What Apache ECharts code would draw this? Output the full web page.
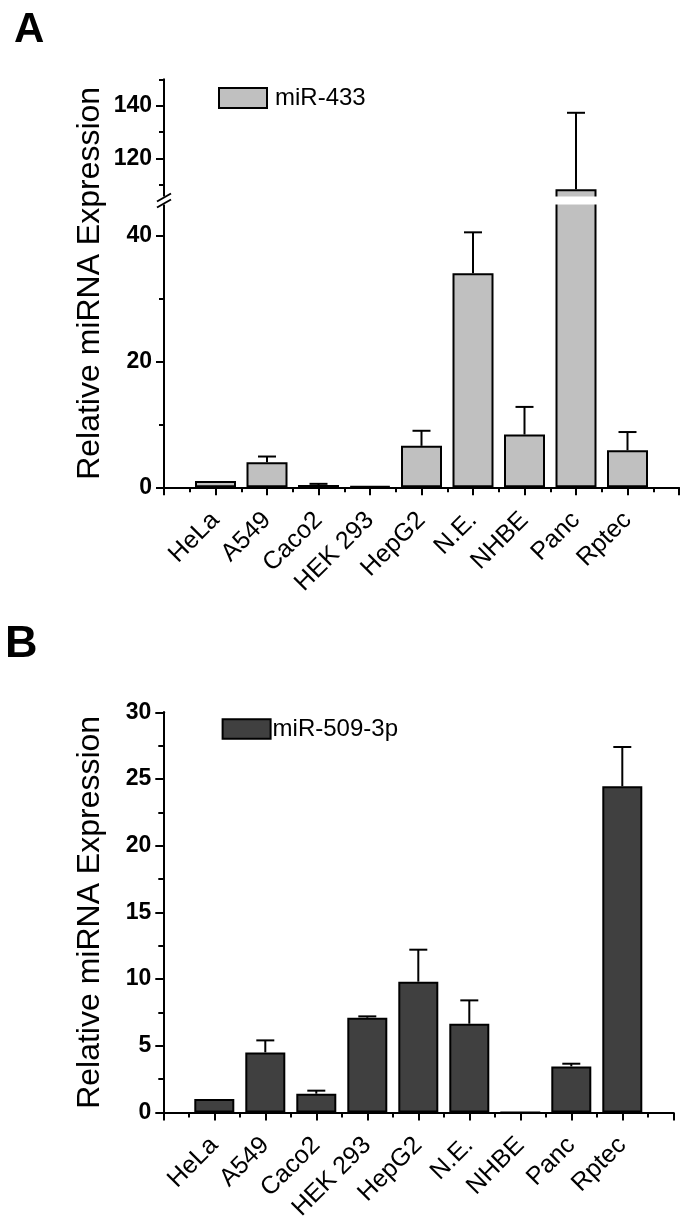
<!DOCTYPE html>
<html>
<head>
<meta charset="utf-8">
<script src="https://cdn.jsdelivr.net/npm/echarts@6.0.0/dist/echarts.min.js"></script>
<style>
  html, body { margin: 0; padding: 0; background: #fff; }
  #chart { width: 688px; height: 1222px; }
</style>
</head>
<body>
<div id="chart"></div>
<script>
// ---------------- data ----------------
const categories = ['HeLa', 'A549', 'Caco2', 'HEK 293', 'HepG2', 'N.E.', 'NHBE', 'Panc', 'Rptec'];

// Panel A : miR-433
const mir433Values = [1.0, 4.0, 0.35, 0.2, 6.6, 34.1, 8.4, 108.2, 5.9];
const mir433Errors = [0, 0.9, 0.2, 0, 2.4, 6.5, 4.4, 29.1, 2.9];

// Panel B : miR-509-3p
const mir509Values = [1.0, 4.5, 1.4, 7.1, 9.8, 6.65, 0, 3.45, 24.45];
const mir509Errors = [0, 0.9, 0.23, 0.1, 2.4, 1.75, 0, 0.2, 2.95];

// tick labels
const aUpperTicks = [120, 140];
const aUpperMinorTicks = [110, 130, 150];
const aLowerTicks = [0, 20, 40];
const aLowerMinorTicks = [10, 30];
const bTicks = [0, 5, 10, 15, 20, 25, 30];
const bMinorTicks = [2.5, 7.5, 12.5, 17.5, 22.5, 27.5];

// broken axis extents (panel A)
const aUpperMin = 104.7, aUpperMax = 150;
const aLowerMin = 0, aLowerMax = 45.35;
const bMin = 0, bMax = 30;

// ---------------- styles / layout ----------------
const FONT = 'Liberation Sans, Arial, Helvetica, sans-serif';
const gridA = { left: 164, width: 515 };
const gridB = { left: 163.3, width: 510 };

const positions = categories.map((c, i) => i + 1);
const barData = vals => vals.map((v, i) => [positions[i], v]);
const errData = (vals, errs) => vals.map((v, i) => [positions[i], v, errs[i]]);

function errRenderer(filter) {
  return function (params, api) {
    const x = api.value(0), v = api.value(1), e = api.value(2);
    if (!e || !filter(v, v + e)) return;
    const p0 = api.coord([x, v]);
    const p1 = api.coord([x, v + e]);
    const half = 9;
    return {
      type: 'group',
      children: [
        { type: 'line', shape: { x1: p0[0], y1: p0[1], x2: p1[0], y2: p1[1] }, style: { stroke: '#000', lineWidth: 2 } },
        { type: 'line', shape: { x1: p1[0] - half, y1: p1[1], x2: p1[0] + half, y2: p1[1] }, style: { stroke: '#000', lineWidth: 2 } }
      ]
    };
  };
}

function xAxisDef(gridIndex, show) {
  return {
    type: 'value', gridIndex: gridIndex, min: 0, max: categories.length + 1, interval: 1,
    show: show, position: 'bottom',
    axisLine: { show: true, onZero: false, lineStyle: { color: '#000', width: 2 } },
    axisTick: { show: true, length: 8, lineStyle: { color: '#000', width: 2 } },
    minorTick: { show: true, splitNumber: 2, length: 5, lineStyle: { color: '#000', width: 2 } },
    splitLine: { show: false },
    minorSplitLine: { show: false },
    axisLabel: {
      show: true, rotate: 45, margin: 29, fontSize: 25, fontFamily: FONT, color: '#000',
      formatter: v => categories[Math.round(v) - 1] || ''
    }
  };
}

function yAxisDef(gridIndex, min, max, ticks, major) {
  return {
    type: 'value', gridIndex: gridIndex, min: min, max: max, position: 'left', offset: 0,
    axisLine: { show: true, onZero: false, lineStyle: { color: '#000', width: 2 } },
    axisTick: { show: true, customValues: ticks, length: major ? 8 : 5, lineStyle: { color: '#000', width: 2 } },
    splitLine: { show: false },
    axisLabel: {
      show: major, customValues: ticks, margin: 12, fontSize: 23, fontWeight: 'bold',
      fontFamily: FONT, color: '#000'
    }
  };
}

const chart = echarts.init(document.getElementById('chart'), null, { renderer: 'canvas' });

const option = {
  backgroundColor: '#fff',
  animation: false,
  grid: [
    { left: gridA.left, width: gridA.width, top: 79.4, height: 119.1, outerBoundsMode: 'none', containLabel: false },
    { left: gridA.left, width: gridA.width, top: 202.5, height: 284.8, outerBoundsMode: 'none', containLabel: false },
    { left: gridB.left, width: gridB.width, top: 712.3, height: 400.1, outerBoundsMode: 'none', containLabel: false }
  ],
  xAxis: [xAxisDef(0, false), xAxisDef(1, true), xAxisDef(2, true)],
  yAxis: [
    yAxisDef(0, aUpperMin, aUpperMax, aUpperTicks, true),
    yAxisDef(0, aUpperMin, aUpperMax, aUpperMinorTicks, false),
    yAxisDef(1, aLowerMin, aLowerMax, aLowerTicks, true),
    yAxisDef(1, aLowerMin, aLowerMax, aLowerMinorTicks, false),
    yAxisDef(2, bMin, bMax, bTicks, true),
    yAxisDef(2, bMin, bMax, bMinorTicks, false)
  ],
  legend: [
    {
      data: ['miR-433'], left: 218, top: 86, padding: 0, orient: 'horizontal',
      itemWidth: 48, itemHeight: 20, icon: 'rect', selectedMode: false,
      itemStyle: { color: '#c0c0c0', borderColor: '#000', borderWidth: 2 },
      textStyle: { fontSize: 24, fontFamily: FONT, color: '#000', padding: [0, 0, 0, 3] }
    },
    {
      data: ['miR-509-3p'], left: 221.6, top: 717, padding: 0, orient: 'horizontal',
      itemWidth: 48, itemHeight: 19.5, icon: 'rect', selectedMode: false,
      itemStyle: { color: '#404040', borderColor: '#000', borderWidth: 2 },
      textStyle: { fontSize: 24, fontFamily: FONT, color: '#000', padding: [0, 0, 0, -3] }
    }
  ],
  series: [
    {
      name: 'miR-433', type: 'bar', xAxisIndex: 0, yAxisIndex: 0, barWidth: 41, clip: true,
      itemStyle: { color: '#c0c0c0', borderColor: '#000', borderWidth: 2 },
      data: barData(mir433Values)
    },
    {
      name: 'miR-433 err', type: 'custom', xAxisIndex: 0, yAxisIndex: 0, z: 5,
      renderItem: errRenderer((lo, hi) => hi > aUpperMin), data: errData(mir433Values, mir433Errors)
    },
    {
      name: 'miR-433', type: 'bar', xAxisIndex: 1, yAxisIndex: 2, barWidth: 41, clip: true,
      itemStyle: { color: '#c0c0c0', borderColor: '#000', borderWidth: 2 },
      data: barData(mir433Values)
    },
    {
      name: 'miR-433 err', type: 'custom', xAxisIndex: 1, yAxisIndex: 2, z: 5,
      renderItem: errRenderer((lo, hi) => lo < aLowerMax), data: errData(mir433Values, mir433Errors)
    },
    {
      name: 'miR-509-3p', type: 'bar', xAxisIndex: 2, yAxisIndex: 4, barWidth: 40, clip: true,
      itemStyle: { color: '#404040', borderColor: '#000', borderWidth: 2 },
      data: barData(mir509Values)
    },
    {
      name: 'miR-509-3p err', type: 'custom', xAxisIndex: 2, yAxisIndex: 4, z: 5,
      renderItem: errRenderer(() => true), data: errData(mir509Values, mir509Errors)
    }
  ]
};

chart.setOption(option);

// ---- decorations derived from the axes: break band, break marks, panel letters, axis titles ----
const axisX = chart.convertToPixel({ xAxisIndex: 1 }, 0);
const axisXEnd = chart.convertToPixel({ xAxisIndex: 1 }, categories.length + 1);
const upperBottom = chart.convertToPixel({ yAxisIndex: 0 }, aUpperMin);
const lowerTop = chart.convertToPixel({ yAxisIndex: 2 }, aLowerMax);
const bandTop = upperBottom - 2, bandBottom = lowerTop + 2;
const mid = (bandTop + bandBottom) / 2;
const aTop = chart.convertToPixel({ yAxisIndex: 0 }, aUpperMax);
const aBottom = chart.convertToPixel({ yAxisIndex: 2 }, 0);
const bTop = chart.convertToPixel({ yAxisIndex: 4 }, bMax);
const bBottom = chart.convertToPixel({ yAxisIndex: 4 }, 0);
const bAxisX = chart.convertToPixel({ xAxisIndex: 2 }, 0);

chart.setOption({
  graphic: [
    { type: 'rect', z: 100, shape: { x: axisX - 4, y: bandTop, width: axisXEnd - axisX + 4, height: bandBottom - bandTop }, style: { fill: '#fff' } },
    { type: 'line', z: 101, shape: { x1: axisX - 7, y1: mid + 1, x2: axisX + 7, y2: mid - 7 }, style: { stroke: '#000', lineWidth: 2 } },
    { type: 'line', z: 101, shape: { x1: axisX - 7, y1: mid + 7, x2: axisX + 7, y2: mid - 1 }, style: { stroke: '#000', lineWidth: 2 } },
    { type: 'text', z: 101, x: 14, y: 30, style: { text: 'A', font: 'bold 42px ' + FONT, fill: '#000', align: 'left', verticalAlign: 'middle', textAlign: 'left', textVerticalAlign: 'middle' } },
    { type: 'text', z: 101, x: 5, y: 645, style: { text: 'B', font: 'bold 45px ' + FONT, fill: '#000', align: 'left', verticalAlign: 'middle', textAlign: 'left', textVerticalAlign: 'middle' } },
    { type: 'text', z: 101, x: axisX - 74, y: (aTop + aBottom) / 2, rotation: Math.PI / 2, style: { text: 'Relative miRNA Expression', font: '32px ' + FONT, fill: '#000', align: 'center', verticalAlign: 'middle', textAlign: 'center', textVerticalAlign: 'middle' } },
    { type: 'text', z: 101, x: bAxisX - 73.3, y: (bTop + bBottom) / 2, rotation: Math.PI / 2, style: { text: 'Relative miRNA Expression', font: '32px ' + FONT, fill: '#000', align: 'center', verticalAlign: 'middle', textAlign: 'center', textVerticalAlign: 'middle' } }
  ]
});
</script>
</body>
</html>
